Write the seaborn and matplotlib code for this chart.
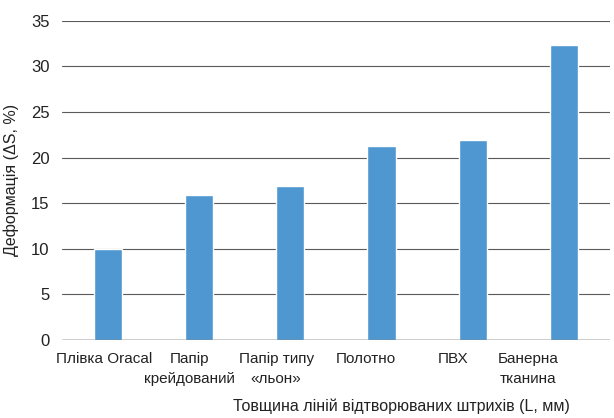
import matplotlib
matplotlib.use("Agg")
import matplotlib.pyplot as plt
import matplotlib.transforms as mtransforms
import seaborn as sns
import pandas as pd

# дані з діаграми
materials = ["Плівка Oracal", "Папір\nкрейдований", "Папір типу\n«льон»",
             "Полотно", "ПВХ", "Банерна\nтканина"]
deformation = [10.0, 15.9, 16.9, 21.3, 21.9, 32.4]
y_ticks = [0, 5, 10, 15, 20, 25, 30, 35]

sns.set_theme(style="white")
plt.rcParams["font.family"] = ["Liberation Sans", "DejaVu Sans"]

df = pd.DataFrame({"material": materials, "deformation": deformation})

fig, ax = plt.subplots(figsize=(6.14, 4.18), dpi=100)
fig.subplots_adjust(left=0.101, right=0.993, top=0.95, bottom=0.187)

sns.barplot(data=df, x="material", y="deformation", color="#4e97d0",
            width=0.31, saturation=1, ax=ax, zorder=3)

ax.set_ylim(0, 35)
ax.set_yticks(y_ticks)
ax.yaxis.grid(True, color="#5a5a5a", linewidth=0.8)
ax.set_axisbelow(True)
for s in ax.spines.values():
    s.set_visible(False)
ax.axhline(0, color="#333333", linewidth=1.0, zorder=4)

ax.tick_params(axis="y", length=0, pad=9, labelsize=12, colors="#222222")
ax.tick_params(axis="x", length=0, pad=9, labelsize=11, colors="#222222")

# підписи в оригіналі трохи зсунуті ліворуч
shifts = [-4, -9, -14, -16, -20, -36]
for lbl, dx in zip(ax.get_xticklabels(), shifts):
    lbl.set_linespacing(1.55)
    lbl.set_transform(lbl.get_transform() +
                      mtransforms.ScaledTranslation(dx / 100, 0, fig.dpi_scale_trans))

ax.set_xlabel("Товщина ліній відтворюваних штрихів (L, мм)", fontsize=11.5,
              color="#222222")
ax.xaxis.set_label_coords(0.62, -0.185)
ax.set_ylabel("Деформація (ΔS, %)", fontsize=11.5, color="#222222")
ax.yaxis.set_label_coords(-0.078, 0.5)

fig.savefig("out.png", dpi=100)
